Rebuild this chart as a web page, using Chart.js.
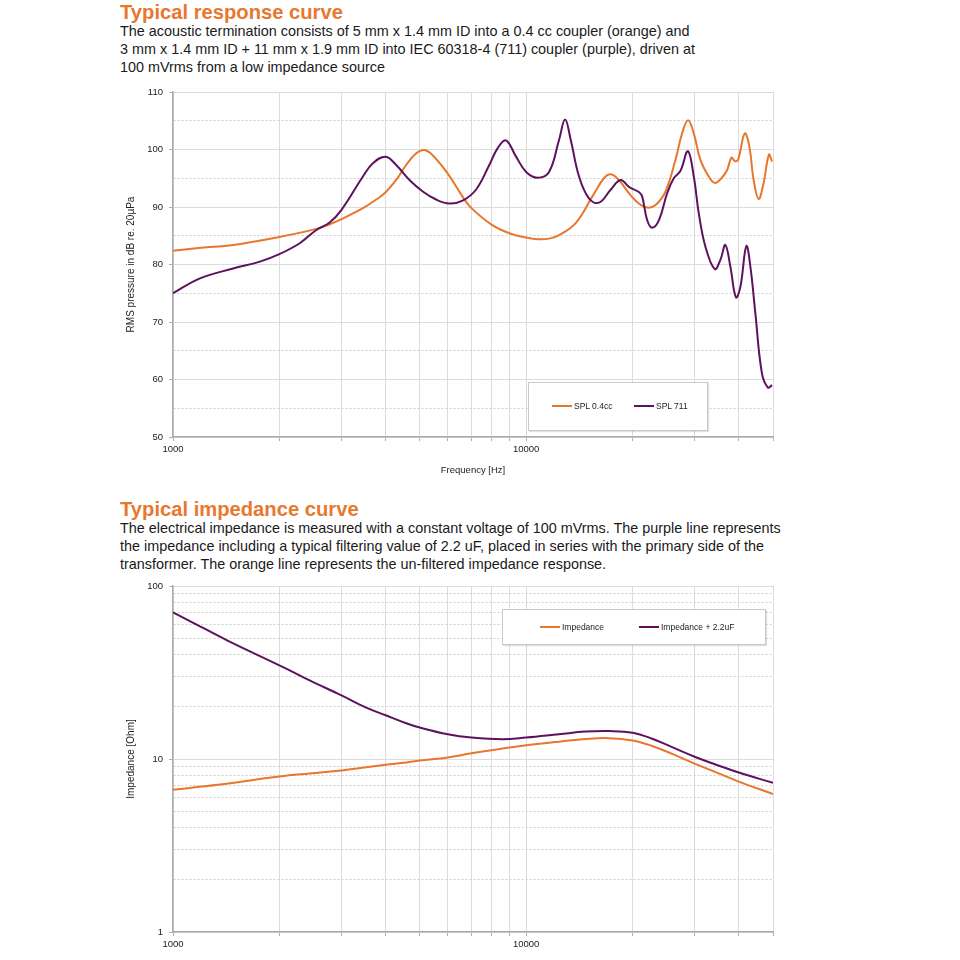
<!DOCTYPE html>
<html>
<head>
<meta charset="utf-8">
<script src="https://cdn.jsdelivr.net/npm/chart.js@4.4.1/dist/chart.umd.min.js"></script>
<style>
  body { margin: 0; background: #fff; font-family: "Liberation Sans", Arial, sans-serif; color: #1a1a1a; }
  .page { position: relative; width: 960px; height: 960px; overflow: hidden; }
  .title { position: absolute; left: 120px; font-size: 20.2px; line-height: 22px; font-weight: bold; color: #e8782f; white-space: nowrap; }
  .caption { position: absolute; left: 120px; font-size: 14.4px; line-height: 18px; white-space: nowrap; }
  canvas { position: absolute; }
  .legend { position: absolute; background: #fff; border: 1px solid #c9c9c9; box-shadow: 1px 1px 1px rgba(0,0,0,0.12); }
  .legend .item { position: absolute; font-size: 8.5px; line-height: 10px; white-space: nowrap; color: #222; }
  .legend .swatch { display: inline-block; width: 20px; height: 2px; vertical-align: middle; margin-right: 2px; margin-top: -1px; }
</style>
</head>
<body>
<div class="page">
  <div class="title" style="top:1px">Typical response curve</div>
  <div class="caption" style="top:22px">
    The acoustic termination consists of 5 mm x 1.4 mm ID into a 0.4 cc coupler (orange) and<br>
    3 mm x 1.4 mm ID + 11 mm x 1.9 mm ID into IEC 60318-4 (711) coupler (purple), driven at<br>
    100 mVrms from a low impedance source
  </div>
  <canvas id="splChart" width="700" height="405" style="left:100px; top:80px"></canvas>
  <div class="legend" style="left:528px; top:382px; width:178px; height:47px">
    <div class="item" style="left:23px; top:18px"><span class="swatch" style="background:#e8762d"></span>SPL 0.4cc</div>
    <div class="item" style="left:105px; top:18px"><span class="swatch" style="background:#5e125e"></span>SPL 711</div>
  </div>

  <div class="title" style="top:498px">Typical impedance curve</div>
  <div class="caption" style="top:519px">
    The electrical impedance is measured with a constant voltage of 100 mVrms. The purple line represents<br>
    the impedance including a typical filtering value of 2.2 uF, placed in series with the primary side of the<br>
    transformer. The orange line represents the un-filtered impedance response.
  </div>
  <canvas id="impChart" width="700" height="386" style="left:100px; top:574px"></canvas>
  <div class="legend" style="left:502px; top:609px; width:262px; height:34px">
    <div class="item" style="left:37px; top:12px"><span class="swatch" style="background:#e8762d"></span>Impedance</div>
    <div class="item" style="left:136px; top:12px"><span class="swatch" style="background:#5e125e"></span>Impedance + 2.2uF</div>
  </div>
</div>

<script>
// --- data ---
const freqTicks = [1000, 2000, 3000, 4000, 5000, 6000, 7000, 8000, 9000,
                   10000, 20000, 30000, 40000, 50000];
const freqTickLabels = ['1000', '', '', '', '', '', '', '', '',
                        '10000', '', '', '', ''];

const splTicks = [50, 55, 60, 65, 70, 75, 80, 85, 90, 95, 100, 105, 110];
const splTickLabels = ['50', '', '60', '', '70', '', '80', '', '90', '', '100', '', '110'];

const impTicks = [1, 2, 3, 4, 5, 6, 7, 8, 9, 10, 20, 30, 40, 50, 60, 70, 80, 90, 100];
const impTickLabels = ['1', '', '', '', '', '', '', '', '', '10', '', '', '', '', '', '', '', '', '100'];

// SPL 0.4cc (orange)
const freq04cc = [1000, 1200, 1480, 2000, 2546, 2777, 3000, 3450, 3762, 4000, 4285, 4573,
                  4876, 5150, 5435, 6000, 6607, 7000, 8000, 9000, 10000, 10760, 11610,
                  12395, 13810, 15390, 16600, 17350, 18310, 19540, 20850, 22020, 23250,
                  24810, 26470, 27640, 28740, 29830, 31150, 32890, 34190, 35480, 37050,
                  38120, 38950, 39800, 41600, 42860, 44060, 45520, 47000, 48700, 49700];
const spl04cc = [82.4, 82.9, 83.4, 84.8, 86.2, 87.0, 87.9, 89.8, 91.3, 92.55, 94.7, 97.3,
                 99.3, 99.9, 99.0, 95.8, 91.8, 89.8, 86.9, 85.4, 84.7, 84.4, 84.5,
                 85.1, 87.2, 91.8, 95.0, 95.7, 94.7, 92.4, 90.6, 89.9, 90.35,
                 92.7, 98.2, 102.8, 105.1, 102.8, 98.2, 95.3, 94.2, 94.8, 96.4,
                 98.6, 98.0, 98.2, 102.8, 100.5, 94.7, 91.4, 94.1, 99.1, 97.9];

// SPL 711 (purple)
const freq711 = [1000, 1192, 1480, 1762, 2000, 2285, 2546, 2777, 3000, 3450, 3681, 4000,
                 4285, 4673, 5096, 5559, 6061, 6607, 7208, 7864, 8297, 8763, 9355, 10000,
                 10760, 11610, 12395, 12890, 13370, 14120, 15060, 16080, 17350, 18510,
                 19540, 20850, 21310, 22020, 22750, 23770, 25080, 26180, 27350, 28700,
                 29830, 30820, 32180, 34190, 35480, 36650, 37870, 39270, 40420, 42020,
                 43150, 44570, 46510, 48360, 49700];
const spl711 = [75.0, 77.6, 79.3, 80.5, 81.8, 83.7, 86.0, 87.3, 89.5, 95.3, 97.6, 98.75,
                97.3, 94.7, 92.7, 91.3, 90.6, 91.1, 93.0, 97.3, 100.2, 101.6, 98.8, 96.1,
                95.1, 96.1, 101.7, 105.2, 101.7, 95.3, 91.5, 90.75, 93.0, 94.7,
                93.5, 92.6, 91.8, 87.7, 86.4, 87.7, 92.4, 95.0, 96.3, 99.7,
                95.3, 88.9, 83.1, 79.2, 80.8, 83.4, 79.6, 74.3, 76.1, 83.2,
                79.6, 71.5, 61.1, 58.6, 59.0];

// Impedance curves
const impFreq = [1000, 1141, 1418, 2000, 2438, 3000, 3525, 4000, 4573, 5000, 6000, 7000,
                 8570, 10000, 12395, 14740, 17160, 20000, 22750, 25900, 30000, 34350,
                 40000, 50000];
const impedance = [6.63, 6.85, 7.2, 7.92, 8.25, 8.58, 8.95, 9.25, 9.55, 9.8, 10.2, 10.8,
                   11.5, 12.0, 12.6, 13.05, 13.2, 12.8, 11.9, 10.7, 9.4, 8.4,
                   7.4, 6.28];
const impedanceCap = [70.4, 61.3, 48.7, 34.8, 28.5, 23.3, 19.8, 17.9, 16.1, 15.2, 13.9, 13.3,
                      13.0, 13.3, 13.9, 14.4, 14.5, 14.2, 13.1, 11.7, 10.3, 9.3,
                      8.35, 7.28];

const ORANGE = '#e8762d';
const PURPLE = '#5e125e';
const FONT = "'Liberation Sans', Arial, sans-serif";

function toPoints(xs, ys) {
    return xs.map((x, i) => ({ x: x, y: ys[i] }));
}

function lineSet(label, xs, ys, color, order) {
    return {
        label: label,
        data: toPoints(xs, ys),
        borderColor: color,
        backgroundColor: color,
        borderWidth: 2,
        pointRadius: 0,
        tension: 0.4,
        order: order
    };
}

// x axis shared by both charts
function freqAxis(axisHeight, withTitle) {
    return {
        type: 'logarithmic',
        min: 1000,
        max: 50000,
        afterBuildTicks: (scale) => { scale.ticks = freqTicks.map(v => ({ value: v })); },
        afterFit: (scale) => { scale.height = axisHeight; },
        ticks: {
            autoSkip: false,
            maxRotation: 0,
            padding: 3,
            color: '#222',
            font: { family: FONT, size: 9.5 },
            callback: (value, index) => freqTickLabels[index]
        },
        grid: { color: '#dcdcdc', lineWidth: 1, tickLength: 4, tickColor: '#b0b0b0' },
        border: { color: '#aaaaaa', width: 1.5 },
        title: {
            display: withTitle,
            text: 'Frequency [Hz]',
            color: '#222',
            font: { family: FONT, size: 9.5 },
            padding: { top: 0, bottom: 9 }
        }
    };
}

function valueAxis(opts) {
    const isMajor = (v) => opts.labels[opts.ticks.indexOf(v)] !== '';
    return {
        type: opts.type,
        min: opts.min,
        max: opts.max,
        afterBuildTicks: (scale) => { scale.ticks = opts.ticks.map(v => ({ value: v })); },
        afterFit: (scale) => { scale.width = 73; },
        ticks: {
            autoSkip: false,
            padding: 6,
            color: '#222',
            font: { family: FONT, size: 9.5 },
            callback: (value, index) => opts.labels[index]
        },
        grid: {
            color: (ctx) => (ctx.tick && !isMajor(ctx.tick.value)) ? '#cfcfcf' : '#dcdcdc',
            tickLength: 4,
            tickColor: (ctx) => (ctx.tick && isMajor(ctx.tick.value)) ? '#b0b0b0' : 'rgba(0,0,0,0)'
        },
        border: {
            color: '#aaaaaa',
            width: 1.5,
            dash: (ctx) => (ctx.tick && !isMajor(ctx.tick.value)) ? [2, 2] : []
        },
        title: {
            display: true,
            text: opts.title,
            color: '#222',
            font: { family: FONT, size: 10 },
            padding: { top: 25, bottom: 0 }
        }
    };
}

const commonOptions = {
    responsive: false,
    animation: false,
    plugins: { legend: { display: false }, tooltip: { enabled: false } }
};

new Chart(document.getElementById('splChart'), {
    type: 'line',
    data: {
        datasets: [
            lineSet('SPL 0.4cc', freq04cc, spl04cc, ORANGE, 2),
            lineSet('SPL 711', freq711, spl711, PURPLE, 1)
        ]
    },
    options: Object.assign({}, commonOptions, {
        layout: { padding: { top: 12, right: 27, bottom: 0, left: 0 } },
        scales: {
            x: freqAxis(48, true),
            y: valueAxis({ type: 'linear', min: 50, max: 110, ticks: splTicks,
                           labels: splTickLabels, title: 'RMS pressure in dB re. 20µPa' })
        }
    })
});

new Chart(document.getElementById('impChart'), {
    type: 'line',
    data: {
        datasets: [
            lineSet('Impedance', impFreq, impedance, ORANGE, 2),
            lineSet('Impedance + 2.2uF', impFreq, impedanceCap, PURPLE, 1)
        ]
    },
    options: Object.assign({}, commonOptions, {
        layout: { padding: { top: 12, right: 27, bottom: 0, left: 0 } },
        scales: {
            x: freqAxis(28, false),
            y: valueAxis({ type: 'logarithmic', min: 1, max: 100, ticks: impTicks,
                           labels: impTickLabels, title: 'Impedance [Ohm]' })
        }
    })
});
</script>
</body>
</html>
